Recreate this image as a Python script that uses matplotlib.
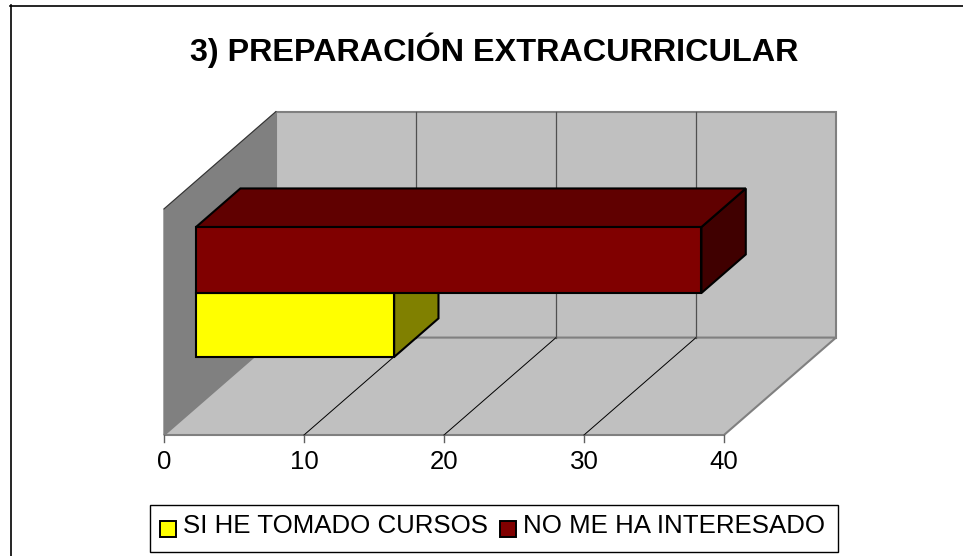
import matplotlib
matplotlib.use("Agg")
import matplotlib.pyplot as plt
from matplotlib.lines import Line2D
from matplotlib.patches import Polygon, Rectangle

plt.rcParams['font.family'] = ['Liberation Sans', 'DejaVu Sans']

TITLE = "3) PREPARACIÓN EXTRACURRICULAR"
labels = ["SI HE TOMADO CURSOS", "NO ME HA INTERESADO"]
values = [14.15, 36.1]
ticks = [0, 10, 20, 30, 40]

W, H = 963, 556
X0, X1 = 164, 724      # pixels of value 0 and 40 on the front edge
Y0, Y1 = 435, 209      # pixels of floor and top on the front edge
DX, DY = 8.0, 0.431    # full depth of the box in data units

colors = ["#ffff00", "#800000"]
tops = ["#c0c000", "#600000"]
sides = ["#808000", "#400000"]


def px(x, y):
    return x / W, 1 - y / H


def proj(v, d, h):
    return v + DX * d, h + DY * d


def face(ax, pts, fc, ec="black", lw=1.0, z=1):
    ax.add_patch(Polygon([proj(*p) for p in pts], closed=True, fc=fc, ec=ec, lw=lw, zorder=z,
                         joinstyle="miter", clip_on=False))


fig = plt.figure(figsize=(W / 100, H / 100), dpi=100)
ax = fig.add_axes([0, 0, 1, 1])
k = (X1 - X0) / ticks[-1]
ax.set_xlim(-X0 / k, (W - X0) / k)
ax.set_ylim((Y0 - H) / (Y0 - Y1), Y0 / (Y0 - Y1))
ax.axis("off")

# only the top and left of the chart frame are inside the picture
for xs, ys in [((10, W), (5.5, 5.5)), ((10.5, 10.5), (5, H))]:
    fx, fy = zip(*[px(x, y) for x, y in zip(xs, ys)])
    fig.add_artist(Line2D(fx, fy, transform=fig.transFigure, color="black", lw=1.2))

# walls and floor
vmax = ticks[-1]
face(ax, [(0, 1, 0), (vmax, 1, 0), (vmax, 1, 1), (0, 1, 1)], "#c0c0c0", "#808080", 1.5)
face(ax, [(0, 0, 0), (0, 1, 0), (0, 1, 1), (0, 0, 1)], "#808080", "#808080", 1.0)
face(ax, [(0, 0, 0), (vmax, 0, 0), (vmax, 1, 0), (0, 1, 0)], "#c0c0c0", "#808080", 1.5)
xs, ys = zip(proj(0, 0, 1), proj(0, 1, 1))
ax.plot(xs, ys, color="#303030", lw=0.7, zorder=2)

for t in ticks[1:-1]:
    xs, ys = zip(proj(t, 0, 0), proj(t, 1, 0))
    ax.plot(xs, ys, color="black", lw=0.7, zorder=2)
    xs, ys = zip(proj(t, 1, 0), proj(t, 1, 1))
    ax.plot(xs, ys, color="#505050", lw=0.9, zorder=2)
for t in ticks:
    ax.plot([t, t], [0, -0.03], color="#606060", lw=1.0, zorder=2, clip_on=False)
    ax.text(t, -0.12, str(t), ha="center", va="center", fontsize=18.6, color="black")

# bars, depth and height bands
d0, d1 = 0.286, 0.682
bands = [(0.222, 0.505), (0.505, 0.797)]
for v, (h0, h1), c, tc, sc in zip(values, bands, colors, tops, sides):
    z = 3
    face(ax, [(v, d0, h0), (v, d1, h0), (v, d1, h1), (v, d0, h1)], sc, lw=1.5, z=z)
    face(ax, [(0, d0, h1), (v, d0, h1), (v, d1, h1), (0, d1, h1)], tc, lw=1.5, z=z)
    face(ax, [(0, d0, h0), (v, d0, h0), (v, d0, h1), (0, d0, h1)], c, lw=1.5, z=z + 1)

fig.text(*px(494, 50), TITLE, ha="center", va="center", fontsize=23.3, fontweight="bold")

# legend
fig.add_artist(Rectangle(px(150, 552), 688 / W, 47 / H, transform=fig.transFigure, fc="white", ec="black", lw=1.0))
for x_sw, x_txt, lab, c in zip([160, 500], [183, 523], labels, colors):
    fig.add_artist(Rectangle(px(x_sw, 537), 16 / W, 16 / H, transform=fig.transFigure, fc=c, ec="black", lw=1.4))
    fig.text(*px(x_txt, 526), lab, ha="left", va="center", fontsize=18.6)

fig.savefig("out.png", dpi=100)
